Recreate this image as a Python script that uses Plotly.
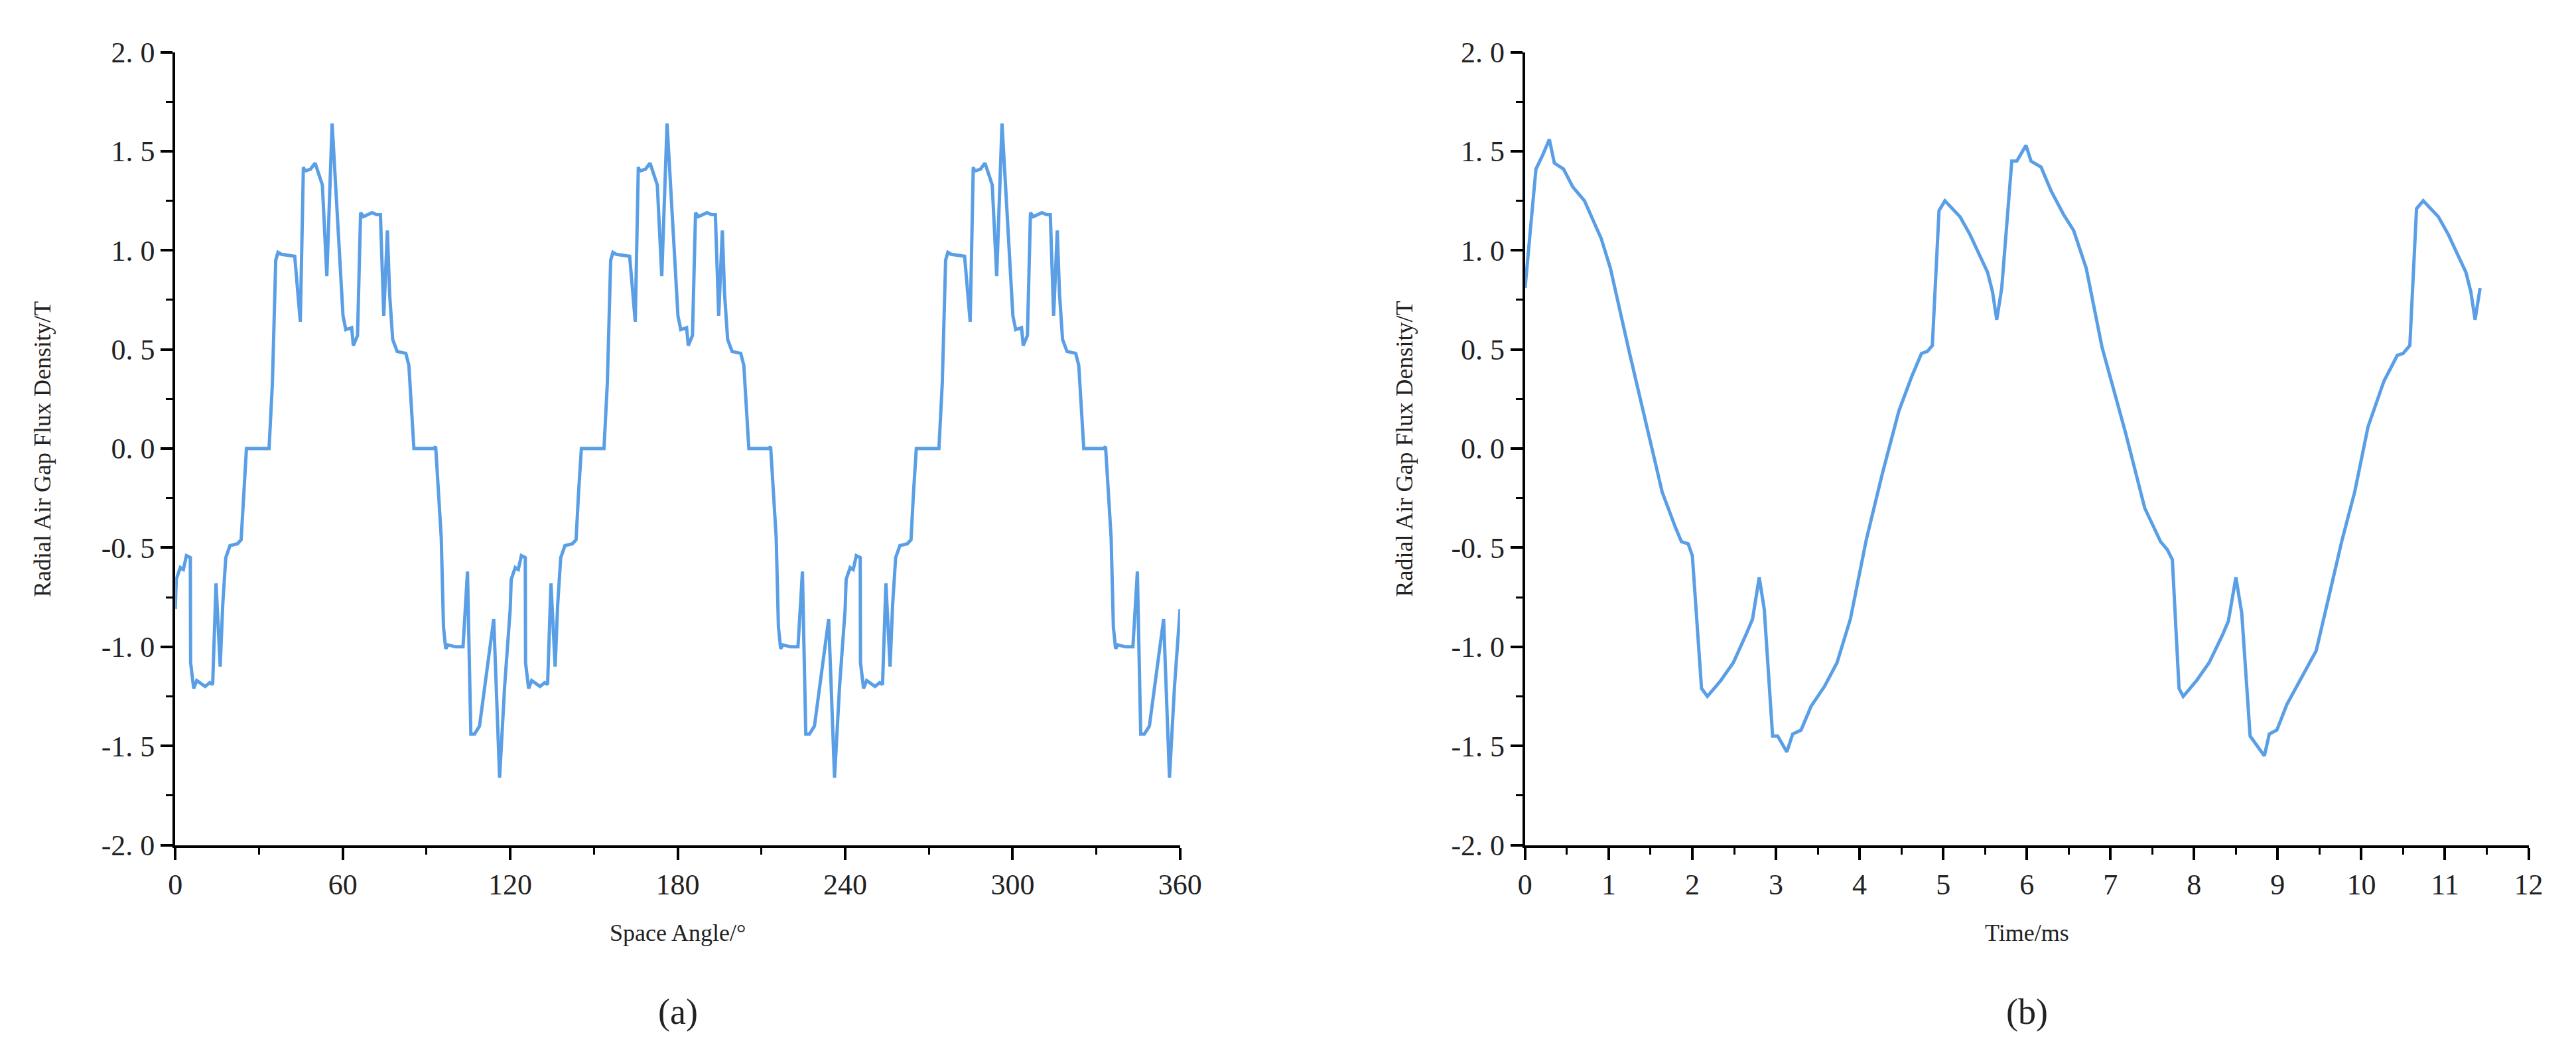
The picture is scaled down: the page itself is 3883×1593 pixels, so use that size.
import plotly.graph_objects as go

# (a) one 120-degree period of the spatial waveform (degrees, tesla)
angle_period = [0, 0.36, 1.8, 2.9, 4.0, 5.4, 5.5, 6.6, 7.7, 10.7, 12.4, 13.4, 14.6, 16.1, 17.0, 18.1, 19.6, 22.3, 23.6,
                24.5, 25.5, 32.8, 33.6, 34.8, 36.0, 36.8, 38.0, 42.8, 44.8, 45.9, 46.4, 48.5, 50.1, 52.7, 54.3, 56.2,
                60.1, 61.1, 63.2, 63.8, 65.3, 66.4, 67.4, 70.5, 72.2, 73.5, 74.7, 76.0, 76.8, 77.9, 79.5, 82.6, 83.7,
                85.5, 92.6, 93.3, 95.3, 96.1, 96.9, 97.7, 100.4, 103.1, 104.7, 105.1, 105.9, 107.2, 109.0, 114.1,
                116.2, 118.0]
flux_period = [-0.81, -0.66, -0.60, -0.61, -0.54, -0.55, -1.08, -1.21, -1.17, -1.20, -1.18, -1.19, -0.68, -1.10, -0.79,
               -0.55, -0.49, -0.48, -0.46, -0.22, 0.0, 0.0, 0.0, 0.33, 0.95, 0.99, 0.98, 0.97, 0.64, 1.42, 1.40, 1.41,
               1.44, 1.33, 0.87, 1.64, 0.67, 0.60, 0.61, 0.52, 0.57, 1.19, 1.17, 1.19, 1.18, 1.18, 0.67, 1.10, 0.78,
               0.55, 0.49, 0.48, 0.42, 0.0, 0.0, 0.01, -0.45, -0.90, -1.01, -0.99, -1.0, -1.0, -0.62, -0.90, -1.44,
               -1.44, -1.40, -0.86, -1.66, -1.20]
n_periods = 3
period_deg = 120

# (b) temporal waveform (ms, tesla)
time_ms = [0, 0.13, 0.21, 0.29, 0.35, 0.42, 0.46, 0.57, 0.71, 0.91, 1.02, 1.25, 1.45, 1.64, 1.80, 1.87, 1.95, 2.0,
           2.11, 2.18, 2.34, 2.49, 2.65, 2.72, 2.80, 2.86, 2.96, 3.02, 3.13, 3.2, 3.30, 3.42, 3.58, 3.73, 3.89, 4.08,
           4.27, 4.47, 4.62, 4.74, 4.81, 4.87, 4.95, 5.02, 5.20, 5.32, 5.43, 5.53, 5.59, 5.64, 5.70, 5.82, 5.88, 5.99,
           6.05, 6.17, 6.29, 6.44, 6.56, 6.71, 6.90, 7.18, 7.41, 7.60, 7.68, 7.74, 7.82, 7.87, 8.03, 8.18, 8.34, 8.41,
           8.50, 8.57, 8.67, 8.76, 8.84, 8.90, 8.99, 9.11, 9.27, 9.46, 9.61, 9.77, 9.92, 10.08, 10.27, 10.43, 10.50,
           10.58, 10.66, 10.74, 10.92, 11.04, 11.15, 11.25, 11.31, 11.36, 11.42]
flux_time = [0.81, 1.41, 1.48, 1.56, 1.44, 1.42, 1.41, 1.32, 1.25, 1.06, 0.91, 0.48, 0.13, -0.22, -0.40, -0.47, -0.48,
             -0.54, -1.21, -1.25, -1.17, -1.08, -0.93, -0.86, -0.65, -0.81, -1.45, -1.45, -1.53, -1.44, -1.42, -1.30,
             -1.20, -1.08, -0.86, -0.46, -0.13, 0.19, 0.36, 0.48, 0.49, 0.52, 1.20, 1.25, 1.17, 1.08, 0.98, 0.89, 0.79,
             0.65, 0.81, 1.45, 1.45, 1.53, 1.45, 1.42, 1.30, 1.18, 1.10, 0.91, 0.51, 0.08, -0.30, -0.47, -0.51, -0.56,
             -1.21, -1.25, -1.17, -1.08, -0.94, -0.87, -0.65, -0.83, -1.45, -1.50, -1.55, -1.44, -1.42, -1.29, -1.17,
             -1.02, -0.75, -0.46, -0.22, 0.11, 0.34, 0.47, 0.48, 0.52, 1.21, 1.25, 1.17, 1.08, 0.98, 0.89, 0.79, 0.65,
             0.81]

y_ticks = [-2.0, -1.5, -1.0, -0.5, 0.0, 0.5, 1.0, 1.5, 2.0]
y_labels = ["-2. 0", "-1. 5", "-1. 0", "-0. 5", "0. 0", "0. 5", "1. 0", "1. 5", "2. 0"]
xa_ticks = [0, 60, 120, 180, 240, 300, 360]
xb_ticks = list(range(0, 13))

angle, flux = [], []
for k in range(n_periods):
    angle += [a + k * period_deg for a in angle_period]
    flux += flux_period
angle.append(n_periods * period_deg)
flux.append(flux_period[0])

W, H = 3883, 1593
FONT = "Liberation Serif"
BLUE = "#5A9FE6"

fig = go.Figure()
fig.add_trace(go.Scatter(x=angle, y=flux, mode="lines", line=dict(color=BLUE, width=5),
                         xaxis="x", yaxis="y", showlegend=False))
fig.add_trace(go.Scatter(x=time_ms, y=flux_time, mode="lines", line=dict(color=BLUE, width=5),
                         xaxis="x2", yaxis="y2", showlegend=False))

ax_common = dict(showgrid=False, zeroline=False, showline=True, linecolor="black", linewidth=4,
                 ticks="outside", ticklen=18, tickwidth=4, tickcolor="black",
                 tickfont=dict(family=FONT, size=44, color="#222"))
yax = dict(ax_common, range=[-2, 2], tickvals=y_ticks, ticktext=y_labels,
           minor=dict(dtick=0.25, ticks="outside", ticklen=10, tickwidth=3, tickcolor="black"))

dom_y = [(H - 1281) / H, (H - 48) / H]
fig.update_layout(
    width=W, height=H, margin=dict(l=0, r=0, t=0, b=0),
    paper_bgcolor="white", plot_bgcolor="white",
    xaxis=dict(ax_common, domain=[248 / W, 1780 / W], range=[0, 360], tickvals=xa_ticks, anchor="y",
               minor=dict(dtick=30, ticks="outside", ticklen=10, tickwidth=3, tickcolor="black")),
    yaxis=dict(yax, domain=dom_y, anchor="x"),
    xaxis2=dict(ax_common, domain=[2306 / W, 3836 / W], range=[0, 12], tickvals=xb_ticks, anchor="y2",
                minor=dict(dtick=0.5, ticks="outside", ticklen=10, tickwidth=3, tickcolor="black")),
    yaxis2=dict(yax, domain=dom_y, anchor="x2"),
)

def ann(text, x, y, size, angle=0):
    fig.add_annotation(text=text, x=x / W, y=1 - y / H, xref="paper", yref="paper", showarrow=False,
                       textangle=angle, font=dict(family=FONT, size=size, color="#222"),
                       xanchor="center", yanchor="middle")

ann("Space Angle/°", 1014, 1418, 36)
ann("Time/ms", 3071, 1418, 36)
ann("Radial Air Gap Flux Density/T", 45, 665, 36, -90)
ann("Radial Air Gap Flux Density/T", 2122, 665, 36, -90)
ann("(a)", 1014, 1540, 54)
ann("(b)", 3071, 1540, 54)

fig.write_html("out.html")
